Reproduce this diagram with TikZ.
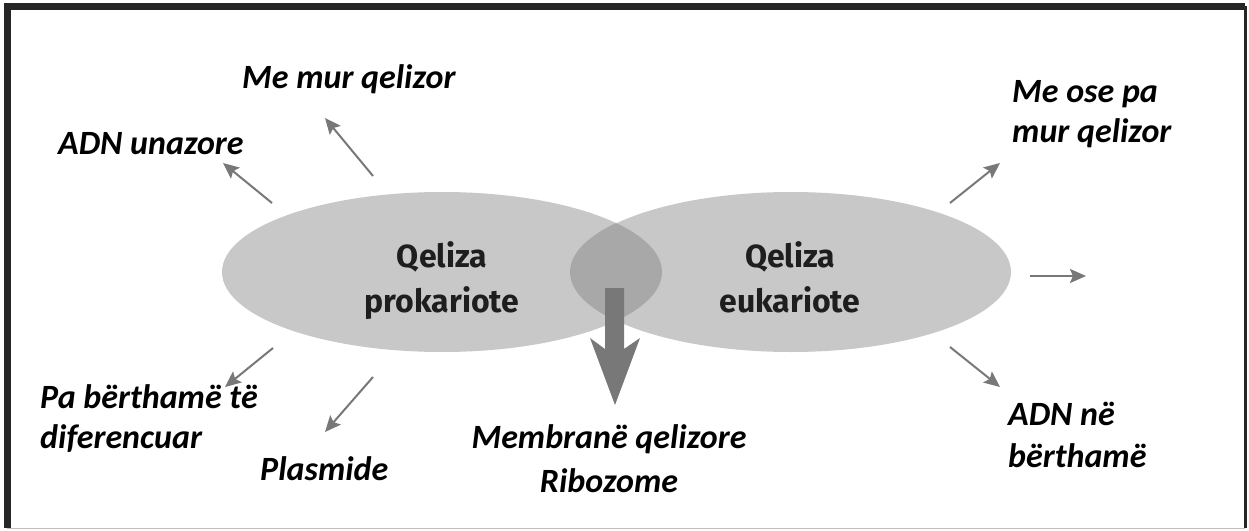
\documentclass[tikz,border=0pt]{standalone}
\usepackage{fontspec}
\setmainfont{Carlito}
\newfontfamily\labfont{Fira Sans}
\usetikzlibrary{arrows.meta,shapes.geometric}
\definecolor{cellgray}{RGB}{200,200,200}
\definecolor{lensgray}{RGB}{168,168,168}
\definecolor{arrgray}{RGB}{120,120,120}
\definecolor{txt}{RGB}{30,30,30}
\tikzset{
  cell/.style={ellipse, fill=cellgray, minimum width=440pt, minimum height=160pt, inner sep=0pt},
  celltext/.style={font=\labfont\bfseries\fontsize{32}{45}\selectfont, text=txt, inner sep=0pt, anchor=base},
  lab/.style={font=\bfseries\itshape\fontsize{34}{40}\selectfont, text=black, inner sep=0pt, anchor=base west},
  conn/.style={draw=arrgray, line width=2pt, -{Stealth[length=16pt,width=14pt,inset=3pt]}},
}
\newcommand{\ltwo}[2]{\begin{tabular}[t]{@{}l@{}}#1\\#2\end{tabular}}
\newcommand{\ctwo}[2]{\begin{tabular}[t]{@{}c@{}}#1\\#2\end{tabular}}
\begin{document}
\begin{tikzpicture}[x=1pt,y=-1pt]
\useasboundingbox (0,0) rectangle (1249,530);
\fill[white] (0,0) rectangle (1249,530);
% frame
\draw[black!85, line width=7pt] (7,528) -- (7,6) -- (1245,6);
\draw[black!85, line width=3pt] (1245,6) -- (1245,528);
\draw[black!25, line width=1pt] (7,528) -- (1245,528);
% cells
\node[cell] (pro) at (442,272) {};
\node[cell] (eu) at (791,272) {};
\begin{scope}
  \clip (442,272) ellipse [x radius=220pt, y radius=80pt];
  \fill[lensgray] (791,272) ellipse [x radius=221pt, y radius=80pt];
\end{scope}
\node[celltext] (protxt) at (442,267) {\ctwo{Qeliza}{prokariote}};
\node[celltext] (eutxt) at (790,267) {\ctwo{Qeliza}{eukariote}};
% big arrow
\fill[arrgray] (605,288) -- (605,349) -- (590,338) -- (615,405) -- (640,338) -- (624,349) -- (624,288) -- cycle;
% labels
\node[lab] (mur) at (242,88) {Me mur qelizor};
\node[lab] (adnu) at (58,154) {ADN unazore};
\node[lab] (mose) at (1012,102) {\ltwo{Me ose pa}{mur qelizor}};
\node[lab] (pab) at (40,408) {\ltwo{Pa bërthamë të}{diferencuar}};
\node[lab] (plas) at (260,480) {Plasmide};
\node[lab, font=\bfseries\itshape\fontsize{34}{42}\selectfont] (adnb) at (1008,425) {\ltwo{ADN në}{bërthamë}};
\node[lab, anchor=base, font=\bfseries\itshape\fontsize{34}{44}\selectfont] (memb) at (609,448) {\ctwo{Membranë qelizore}{Ribozome}};
% connector end points
\coordinate (t1) at (272,203); \coordinate (h1) at (223,163);
\coordinate (t2) at (373,176); \coordinate (h2) at (325,118);
\coordinate (t3) at (950,203); \coordinate (h3) at (1000,163);
\coordinate (t4) at (1030,276); \coordinate (h4) at (1086,276);
\coordinate (t5) at (950,347); \coordinate (h5) at (1000,387);
\coordinate (t6) at (273,348); \coordinate (h6) at (225,387);
\coordinate (t7) at (373,377); \coordinate (h7) at (325,432);
\draw[conn] (t1) -- (h1);
\draw[conn] (t2) -- (h2);
\draw[conn] (t3) -- (h3);
\draw[conn] (t4) -- (h4);
\draw[conn] (t5) -- (h5);
\draw[conn] (t6) -- (h6);
\draw[conn] (t7) -- (h7);
\end{tikzpicture}
\end{document}
